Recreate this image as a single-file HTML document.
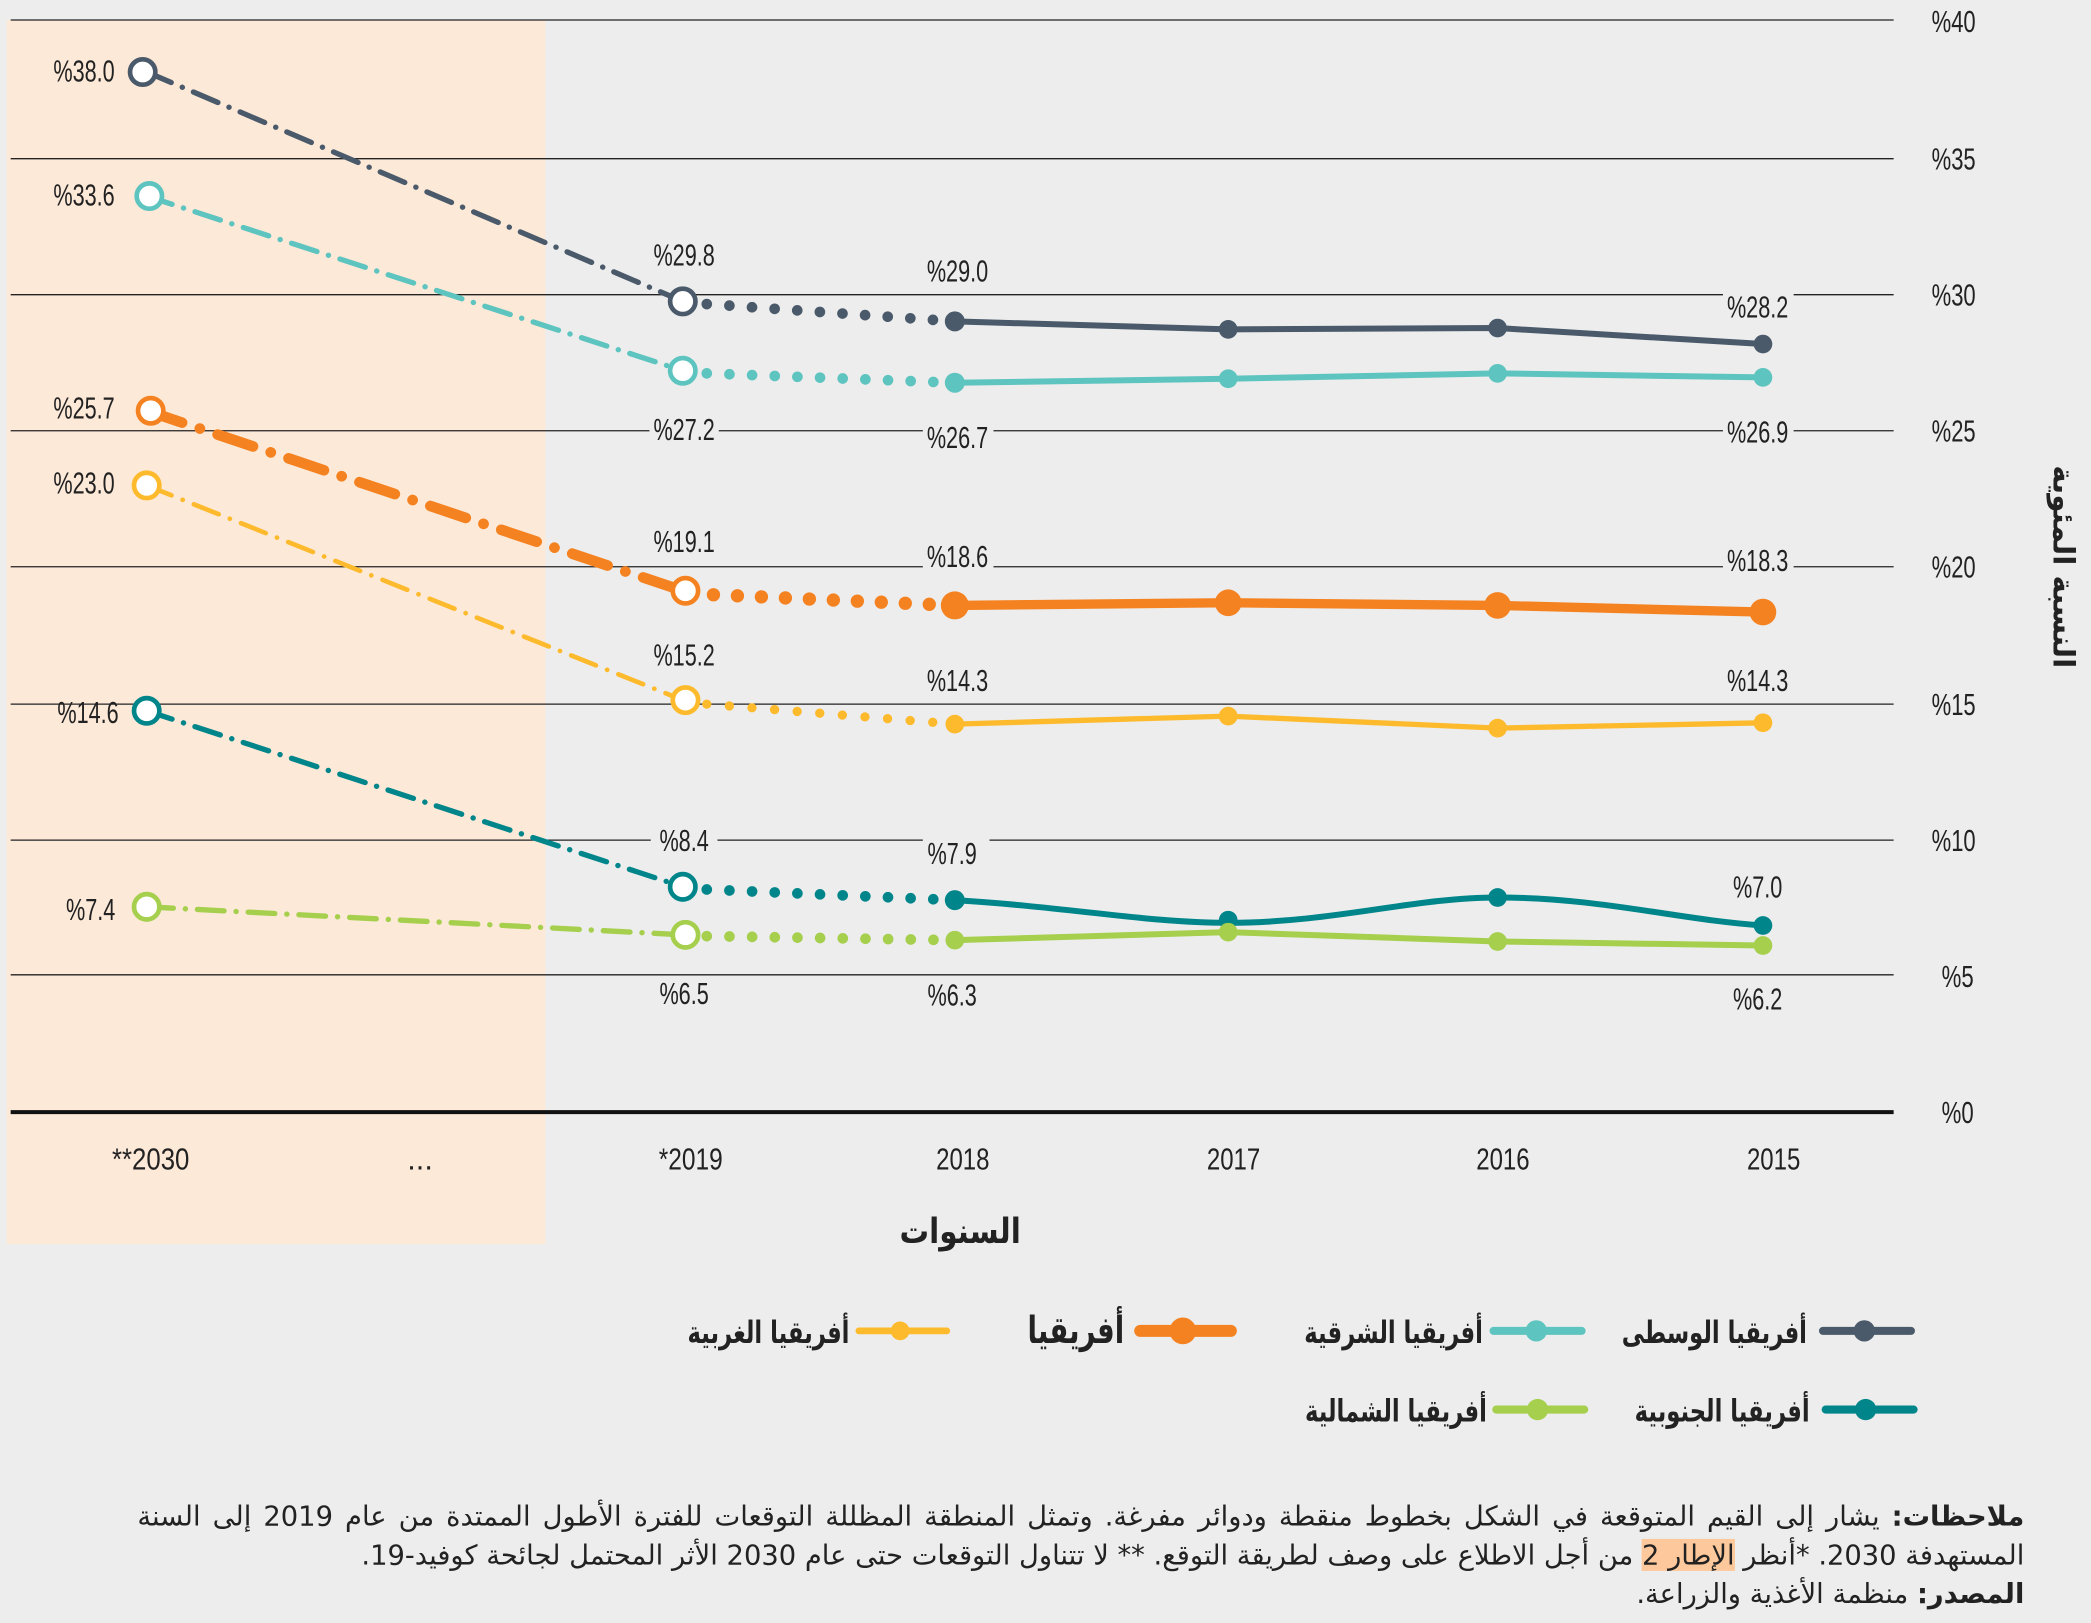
<!DOCTYPE html>
<html><head><meta charset="utf-8"><style>
html,body{margin:0;padding:0;background:#ededed;}
#w{position:relative;width:1568px;height:1217px;transform:scale(1.33355);transform-origin:0 0;overflow:hidden;}
svg{position:absolute;left:0;top:0}
.n{font-family:"Liberation Sans Narrow","Liberation Sans",sans-serif;font-size:23px;fill:#222;}
.ar{font-family:"DejaVu Sans","Liberation Sans",sans-serif;}
#notes{position:absolute;left:103px;width:1415px;top:1123px;direction:rtl;text-align:justify;text-align-last:right;font-family:"DejaVu Sans","Liberation Sans",sans-serif;font-size:20.5px;line-height:29px;color:#222;}
</style></head><body><div id="w">
<svg width="1568" height="1217" viewBox="0 0 1568 1217">
<rect x="5" y="15" width="404" height="918" fill="#fde9d8"/>
<g stroke="#222" stroke-width="1">
<line x1="8" y1="15" x2="1420" y2="15"/><line x1="8" y1="119" x2="1420" y2="119"/>
<line x1="8" y1="221" x2="1420" y2="221"/><line x1="8" y1="323" x2="1420" y2="323"/>
<line x1="8" y1="425" x2="1420" y2="425"/><line x1="8" y1="528" x2="1420" y2="528"/>
<line x1="8" y1="630" x2="1420" y2="630"/><line x1="8" y1="731" x2="1420" y2="731"/>
</g>
<line x1="8" y1="834" x2="1420" y2="834" stroke="#111" stroke-width="3"/>
<g class="n" text-anchor="middle" lengthAdjust="spacingAndGlyphs">
<text x="1465" y="24" textLength="33" lengthAdjust="spacingAndGlyphs">%40</text>
<text x="1465" y="127" textLength="33" lengthAdjust="spacingAndGlyphs">%35</text>
<text x="1465" y="229" textLength="33" lengthAdjust="spacingAndGlyphs">%30</text>
<text x="1465" y="331" textLength="33" lengthAdjust="spacingAndGlyphs">%25</text>
<text x="1465" y="433" textLength="33" lengthAdjust="spacingAndGlyphs">%20</text>
<text x="1465" y="536" textLength="33" lengthAdjust="spacingAndGlyphs">%15</text>
<text x="1465" y="638" textLength="33" lengthAdjust="spacingAndGlyphs">%10</text>
<text x="1468" y="740" textLength="24" lengthAdjust="spacingAndGlyphs">%5</text>
<text x="1468" y="842" textLength="24" lengthAdjust="spacingAndGlyphs">%0</text>
<text x="113" y="877" textLength="58" lengthAdjust="spacingAndGlyphs">**2030</text>
<text x="315" y="877">...</text>
<text x="518" y="877" textLength="48" lengthAdjust="spacingAndGlyphs">*2019</text>
<text x="722" y="877" textLength="40" lengthAdjust="spacingAndGlyphs">2018</text>
<text x="925" y="877" textLength="40" lengthAdjust="spacingAndGlyphs">2017</text>
<text x="1127" y="877" textLength="40" lengthAdjust="spacingAndGlyphs">2016</text>
<text x="1330" y="877" textLength="40" lengthAdjust="spacingAndGlyphs">2015</text>
</g>
<text class="ar" transform="translate(720,932) scale(0.85,1)" text-anchor="middle" font-size="26" font-weight="bold" fill="#222">السنوات</text>
<text class="ar" transform="translate(1540,425) rotate(90)" text-anchor="middle" font-size="22" font-weight="bold" fill="#222">النسبة المئوية</text>

<g fill="none" stroke-linecap="round" stroke-linejoin="round">
<g stroke="#4a5a6a">
<line x1="110" y1="54" x2="512" y2="226" stroke-width="4" stroke-dasharray="20 9 0.1 9"/>
<line x1="530" y1="228" x2="716" y2="241" stroke-width="8" stroke-dasharray="0 17"/>
<polyline points="716,241 921,247 1123,246 1322,258" stroke-width="4.5"/>
</g>
<g stroke="#5ec4bf">
<line x1="110" y1="147" x2="512" y2="278" stroke-width="4" stroke-dasharray="20 9 0.1 9"/>
<line x1="530" y1="280" x2="716" y2="287" stroke-width="8" stroke-dasharray="0 17"/>
<polyline points="716,287 921,284 1123,280 1322,283" stroke-width="4.5"/>
</g>
<g stroke="#f58220">
<line x1="110" y1="308" x2="512" y2="443" stroke-width="8" stroke-dasharray="28 14 0.1 14"/>
<line x1="535" y1="446" x2="716" y2="454" stroke-width="10" stroke-dasharray="0 18"/>
<polyline points="716,454 921,452 1123,454 1322,459" stroke-width="7"/>
</g>
<g stroke="#fdba2c">
<line x1="110" y1="364" x2="512" y2="525" stroke-width="3.5" stroke-dasharray="20 9 0.1 9"/>
<line x1="530" y1="528" x2="716" y2="543" stroke-width="7" stroke-dasharray="0 17"/>
<polyline points="716,543 921,537 1123,546 1322,542" stroke-width="4"/>
</g>
<g stroke="#00868a">
<line x1="110" y1="533" x2="512" y2="665" stroke-width="4" stroke-dasharray="20 9 0.1 9"/>
<line x1="530" y1="667" x2="716" y2="675" stroke-width="8" stroke-dasharray="0 17"/>
<path d="M716,675 C800,680 860,692 921,692 C1000,692 1060,673 1123,673 C1200,673 1260,690 1322,694" stroke-width="4.5"/>
</g>
<g stroke="#a5cf4c">
<line x1="110" y1="680" x2="512" y2="701" stroke-width="4" stroke-dasharray="20 9 0.1 9"/>
<line x1="530" y1="702" x2="716" y2="705" stroke-width="8" stroke-dasharray="0 17"/>
<polyline points="716,705 921,699 1123,706 1322,709" stroke-width="4.5"/>
</g>
</g>
<g stroke-width="3.5" fill="#fff">
<circle cx="107" cy="54" r="9.5" stroke="#4a5a6a"/><circle cx="512" cy="226" r="9.5" stroke="#4a5a6a"/>
<circle cx="112" cy="147" r="9.5" stroke="#5ec4bf"/><circle cx="512" cy="278" r="9.5" stroke="#5ec4bf"/>
<circle cx="113" cy="308" r="9.5" stroke="#f58220"/><circle cx="514" cy="443" r="9.5" stroke="#f58220"/>
<circle cx="110" cy="364" r="9.5" stroke="#fdba2c"/><circle cx="514" cy="525" r="9.5" stroke="#fdba2c"/>
<circle cx="110" cy="533" r="9.5" stroke="#00868a"/><circle cx="512" cy="665" r="9.5" stroke="#00868a"/>
<circle cx="110" cy="680" r="9.5" stroke="#a5cf4c"/><circle cx="514" cy="701" r="9.5" stroke="#a5cf4c"/>
</g>
<g fill="#4a5a6a"><circle cx="716" cy="241" r="7.5"/><circle cx="921" cy="247" r="7"/><circle cx="1123" cy="246" r="7"/><circle cx="1322" cy="258" r="7"/></g>
<g fill="#5ec4bf"><circle cx="716" cy="287" r="7.5"/><circle cx="921" cy="284" r="7"/><circle cx="1123" cy="280" r="7"/><circle cx="1322" cy="283" r="7"/></g>
<g fill="#f58220"><circle cx="716" cy="454" r="10.5"/><circle cx="921" cy="452" r="10"/><circle cx="1123" cy="454" r="10"/><circle cx="1322" cy="459" r="10"/></g>
<g fill="#fdba2c"><circle cx="716" cy="543" r="7"/><circle cx="921" cy="537" r="7"/><circle cx="1123" cy="546" r="7"/><circle cx="1322" cy="542" r="7"/></g>
<g fill="#00868a"><circle cx="716" cy="675" r="7.5"/><circle cx="921" cy="690" r="7"/><circle cx="1123" cy="673" r="7"/><circle cx="1322" cy="694" r="7"/></g>
<g fill="#a5cf4c"><circle cx="716" cy="705" r="7"/><circle cx="921" cy="699" r="7"/><circle cx="1123" cy="706" r="7"/><circle cx="1322" cy="709" r="7"/></g>

<g fill="#ededed">
<rect x="487" y="312" width="52" height="20"/><rect x="692" y="318" width="53" height="20"/>
<rect x="1292" y="313" width="53" height="20"/><rect x="692" y="406" width="53" height="20"/>
<rect x="1292" y="409" width="53" height="20"/><rect x="488" y="619" width="50" height="20"/>
<rect x="692" y="629" width="50" height="20"/><rect x="1292" y="220" width="53" height="20"/>
</g>
<g class="n" text-anchor="middle">
<text x="63" y="61" textLength="46" lengthAdjust="spacingAndGlyphs">%38.0</text>
<text x="63" y="154" textLength="46" lengthAdjust="spacingAndGlyphs">%33.6</text>
<text x="63" y="314" textLength="46" lengthAdjust="spacingAndGlyphs">%25.7</text>
<text x="63" y="370" textLength="46" lengthAdjust="spacingAndGlyphs">%23.0</text>
<text x="66" y="542" textLength="46" lengthAdjust="spacingAndGlyphs">%14.6</text>
<text x="68" y="690" textLength="37" lengthAdjust="spacingAndGlyphs">%7.4</text>
<text x="513" y="199" textLength="46" lengthAdjust="spacingAndGlyphs">%29.8</text>
<text x="513" y="330" textLength="46" lengthAdjust="spacingAndGlyphs">%27.2</text>
<text x="513" y="414" textLength="46" lengthAdjust="spacingAndGlyphs">%19.1</text>
<text x="513" y="499" textLength="46" lengthAdjust="spacingAndGlyphs">%15.2</text>
<text x="513" y="638" textLength="37" lengthAdjust="spacingAndGlyphs">%8.4</text>
<text x="513" y="753" textLength="37" lengthAdjust="spacingAndGlyphs">%6.5</text>
<text x="718" y="211" textLength="46" lengthAdjust="spacingAndGlyphs">%29.0</text>
<text x="718" y="336" textLength="46" lengthAdjust="spacingAndGlyphs">%26.7</text>
<text x="718" y="425" textLength="46" lengthAdjust="spacingAndGlyphs">%18.6</text>
<text x="718" y="518" textLength="46" lengthAdjust="spacingAndGlyphs">%14.3</text>
<text x="714" y="648" textLength="37" lengthAdjust="spacingAndGlyphs">%7.9</text>
<text x="714" y="754" textLength="37" lengthAdjust="spacingAndGlyphs">%6.3</text>
<text x="1318" y="238" textLength="46" lengthAdjust="spacingAndGlyphs">%28.2</text>
<text x="1318" y="332" textLength="46" lengthAdjust="spacingAndGlyphs">%26.9</text>
<text x="1318" y="428" textLength="46" lengthAdjust="spacingAndGlyphs">%18.3</text>
<text x="1318" y="518" textLength="46" lengthAdjust="spacingAndGlyphs">%14.3</text>
<text x="1318" y="673" textLength="37" lengthAdjust="spacingAndGlyphs">%7.0</text>
<text x="1318" y="757" textLength="37" lengthAdjust="spacingAndGlyphs">%6.2</text>
</g>

<g stroke-linecap="round">
<line x1="1367" y1="998" x2="1433" y2="998" stroke="#4a5a6a" stroke-width="6"/><circle cx="1398" cy="998" r="8" fill="#4a5a6a"/>
<line x1="1120" y1="998" x2="1186" y2="998" stroke="#5ec4bf" stroke-width="6"/><circle cx="1152" cy="998" r="8" fill="#5ec4bf"/>
<line x1="855" y1="998" x2="923" y2="998" stroke="#f58220" stroke-width="9"/><circle cx="887" cy="998" r="10" fill="#f58220"/>
<line x1="644" y1="998" x2="710" y2="998" stroke="#fdba2c" stroke-width="5"/><circle cx="675" cy="998" r="7" fill="#fdba2c"/>
<line x1="1369" y1="1057" x2="1435" y2="1057" stroke="#00868a" stroke-width="6"/><circle cx="1399" cy="1057" r="8" fill="#00868a"/>
<line x1="1122" y1="1057" x2="1188" y2="1057" stroke="#a5cf4c" stroke-width="6"/><circle cx="1153" cy="1057" r="8" fill="#a5cf4c"/>
</g>
<g class="ar" font-weight="bold" fill="#222" font-size="23" text-anchor="end">
<text transform="translate(1355,1007) scale(0.74,1)">أفريقيا الوسطى</text>
<text transform="translate(1112,1007) scale(0.74,1)">أفريقيا الشرقية</text>
<text transform="translate(843,1007) scale(0.74,1)" font-size="28">أفريقيا</text>
<text transform="translate(637,1007) scale(0.74,1)">أفريقيا الغربية</text>
<text transform="translate(1357,1066) scale(0.74,1)">أفريقيا الجنوبية</text>
<text transform="translate(1115,1066) scale(0.74,1)">أفريقيا الشمالية</text>
</g>
</svg>
<div id="notes"><b>ملاحظات:</b> يشار إلى القيم المتوقعة في الشكل بخطوط منقطة ودوائر مفرغة. وتمثل المنطقة المظللة التوقعات للفترة الأطول الممتدة من عام 2019 إلى السنة المستهدفة 2030. *أنظر <span style="background:#fdc89b">الإطار 2</span> من أجل الاطلاع على وصف لطريقة التوقع. ** لا تتناول التوقعات حتى عام 2030 الأثر المحتمل لجائحة كوفيد-19.<br><b>المصدر:</b> منظمة الأغذية والزراعة.</div>
</div></body></html>
